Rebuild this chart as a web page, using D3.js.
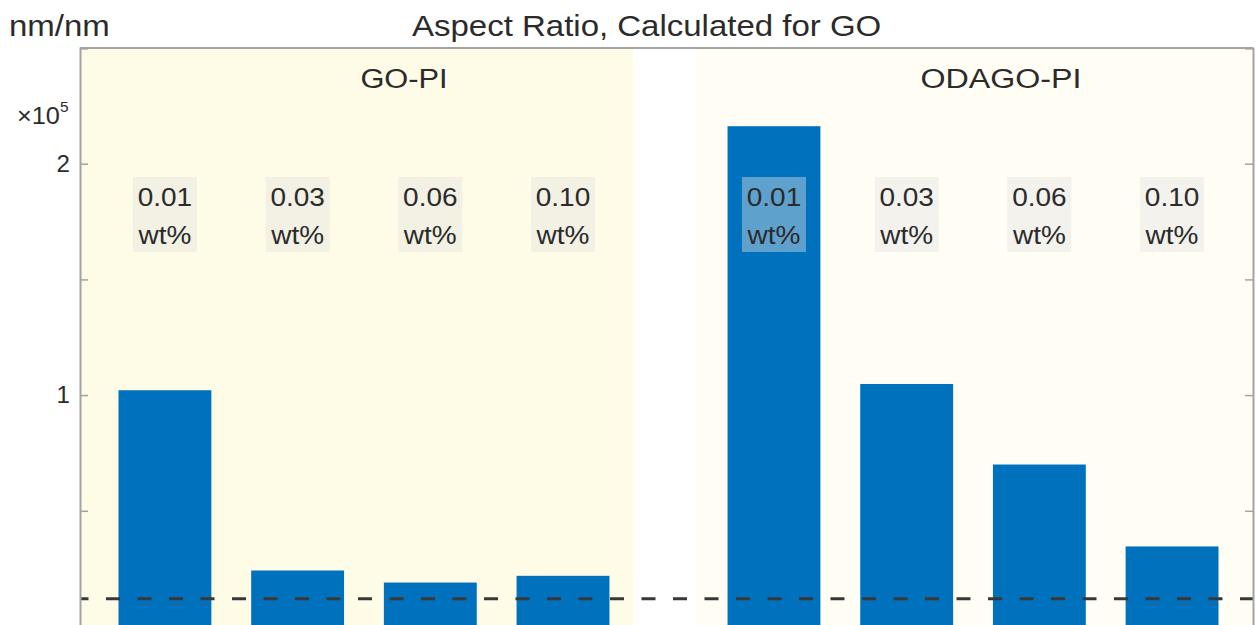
<!DOCTYPE html>
<html>
<head>
<meta charset="utf-8">
<script src="https://cdn.jsdelivr.net/npm/d3@7/dist/d3.min.js"></script>
<style>
  html, body { margin: 0; padding: 0; background: #ffffff; }
  svg { display: block; font-family: "Liberation Sans", Arial, Helvetica, sans-serif; }
</style>
</head>
<body>
<script>
// ---- data ----
const groups = ["GO-PI", "ODAGO-PI"];
const concentrations = ["0.01", "0.03", "0.06", "0.10"];
const unitLabel = "wt%";
const goValues = [1.021, 0.242, 0.190, 0.219];      // ×10^5 nm/nm
const odagoValues = [2.162, 1.048, 0.700, 0.346];   // ×10^5 nm/nm
const referenceValue = 0.12;                        // dashed line, ×10^5
const yTickValues = [0, 0.5, 1, 1.5, 2, 2.5];
const yTickLabels = ["", "", "1", "", "2", ""];
const titleText = "Aspect Ratio, Calculated for GO";
const yUnitText = "nm/nm";
const exponentBase = "×10";
const exponentPower = "5";

// ---- layout ----
const W = 1257, H = 625;
const axLeft = 80, axRight = 1253, axTop = 48, axBottom = 626.5;
const stretch = 1.1;   // horizontal text stretch seen in the reference
const svg = d3.select("body").append("svg").attr("width", W).attr("height", H);

const x = d3.scaleLinear().domain([0.36, 9.2]).range([axLeft, axRight]);
const y = d3.scaleLinear().domain([0, 2.5]).range([axBottom, axTop]);

const groupGap = 4.59;
const halfBar = 0.35;
const series = [goValues, odagoValues];
const bars = [];
series.forEach((vals, gi) => vals.forEach((v, i) => {
  bars.push({ g: gi, i: i, pos: gi * groupGap + i + 1, v: v, label: concentrations[i] });
}));

const textColor = "#2b2b2b";
const axisColor = "#a3a3a3";

function placeText(sel, px, py, size, anchor, sx) {
  return sel.attr("transform", `translate(${px},${py}) scale(${sx || stretch},1)`)
    .attr("font-size", size).attr("text-anchor", anchor || "start").attr("fill", textColor);
}

// group background shading
const regions = [
  { x0: 0.36, x1: 4.53, fill: "#fefce6" },
  { x0: 5.01, x1: 9.2, fill: "#fffdf4" }
];
svg.append("rect").attr("x", axLeft).attr("y", axTop).attr("width", axRight - axLeft).attr("height", axBottom - axTop).attr("fill", "#ffffff");
svg.selectAll("rect.region").data(regions).enter().append("rect")
  .attr("class", "region")
  .attr("x", d => x(d.x0)).attr("width", d => x(d.x1) - x(d.x0))
  .attr("y", axTop).attr("height", axBottom - axTop)
  .attr("fill", d => d.fill);

// bars
svg.selectAll("rect.bar").data(bars).enter().append("rect")
  .attr("class", "bar")
  .attr("x", d => x(d.pos - halfBar))
  .attr("width", d => x(d.pos + halfBar) - x(d.pos - halfBar))
  .attr("y", d => y(d.v))
  .attr("height", d => y(0) - y(d.v))
  .attr("fill", "#0072bd");

// dashed reference line
svg.append("line")
  .attr("x1", x(0.36)).attr("x2", x(9.2))
  .attr("y1", y(referenceValue)).attr("y2", y(referenceValue))
  .attr("stroke", "#383838").attr("stroke-width", 3)
  .attr("stroke-dasharray", "14 17.5").attr("stroke-dashoffset", 5.5);

// category label boxes
const lab = svg.selectAll("g.cat").data(bars).enter().append("g")
  .attr("class", "cat")
  .attr("transform", d => `translate(${x(d.pos)},0)`);
lab.append("rect")
  .attr("x", -32).attr("width", 64)
  .attr("y", 177).attr("height", 75)
  .attr("fill", "#e2e2e2").attr("fill-opacity", 0.42);
lab.append("text").each(function (d) {
  placeText(d3.select(this), 0, 206, 25, "middle", 1.12).text(d.label);
});
lab.append("text").each(function () {
  placeText(d3.select(this), 0, 244, 25, "middle", 1.12).text(unitLabel);
});

// group labels
const groupCenters = [404, 1001];
const groupStretch = [1.1, 1.15];
svg.selectAll("text.group").data(groups).enter().append("text")
  .attr("class", "group")
  .each(function (d, i) { placeText(d3.select(this), groupCenters[i], 88, 28, "middle", groupStretch[i]).text(d); });

// axes (box)
const yAxisL = d3.axisLeft(y).tickValues(yTickValues).tickSize(-8).tickFormat(() => "");
const yAxisR = d3.axisRight(y).tickValues(yTickValues).tickSize(-8).tickFormat(() => "");
const gL = svg.append("g").attr("transform", `translate(${axLeft},0)`).call(yAxisL);
const gR = svg.append("g").attr("transform", `translate(${axRight},0)`).call(yAxisR);
[gL, gR].forEach(g => {
  g.select(".domain").attr("stroke", axisColor).attr("stroke-width", 2);
  g.selectAll(".tick line").attr("stroke", axisColor).attr("stroke-width", 1.5);
});
svg.append("line").attr("x1", axLeft).attr("x2", axRight).attr("y1", axTop).attr("y2", axTop)
  .attr("stroke", axisColor).attr("stroke-width", 2);
svg.append("line").attr("x1", axLeft).attr("x2", axRight).attr("y1", axBottom).attr("y2", axBottom)
  .attr("stroke", axisColor).attr("stroke-width", 2);

// y tick labels
svg.selectAll("text.ytl").data(yTickValues.map((v, i) => ({ v: v, t: yTickLabels[i] })).filter(d => d.t))
  .enter().append("text").attr("class", "ytl")
  .each(function (d) { placeText(d3.select(this), 70, y(d.v) + 8, 23, "end", 1.05).text(d.t); });

// exponent
const ex = placeText(svg.append("text"), 17, 124, 23, "start", 1.1);
ex.append("tspan").text(exponentBase);
ex.append("tspan").attr("font-size", 14).attr("dy", -12).text(exponentPower);

// title and unit
placeText(svg.append("text"), 9, 36, 30, "start").text(yUnitText);
placeText(svg.append("text"), 412, 36, 30, "start").text(titleText);
</script>
</body>
</html>
